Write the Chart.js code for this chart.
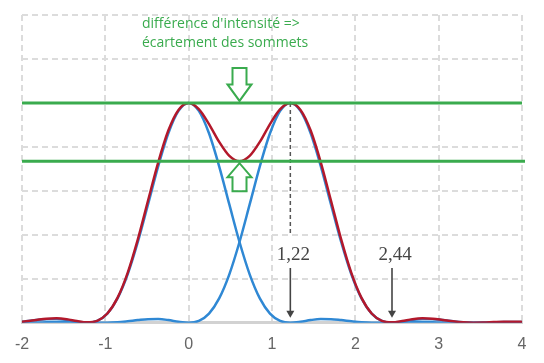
<!DOCTYPE html>
<html>
<head>
<meta charset="utf-8">
<script src="https://cdn.jsdelivr.net/npm/chart.js@4"></script>
<style>
  html, body { margin: 0; padding: 0; background: #fff; }
  #wrap { width: 544px; height: 363px; }
</style>
</head>
<body>
<div id="wrap"><canvas id="chart"></canvas></div>
<script>
// positions along the axis (units of lambda/D)
const xValues = [
  -2.074, -1.952, -1.83, -1.708, -1.586, -1.464, -1.342, -1.22, -1.098, -0.976,
  -0.854, -0.732, -0.61, -0.488, -0.366, -0.244, -0.122, 0, 0.122, 0.244,
  0.366, 0.488, 0.61, 0.732, 0.854, 0.976, 1.098, 1.22, 1.342, 1.464,
  1.586, 1.708, 1.83, 1.952, 2.074, 2.196, 2.318, 2.44, 2.562, 2.684,
  2.806, 2.928, 3.05, 3.172, 3.294, 3.416, 3.538, 3.66, 3.782, 3.904, 4.026
];

// first source, centred on 0
const blueLeft = [
  0.0021, 0.0067, 0.0122, 0.0166, 0.0170, 0.0125, 0.0046, 0, 0.0085, 0.0421,
  0.1111, 0.2206, 0.3675, 0.5384, 0.7118, 0.8619, 0.9638, 1, 0.9638, 0.8619,
  0.7118, 0.5384, 0.3675, 0.2206, 0.1111, 0.0421, 0.0085, 0, 0.0046, 0.0125,
  0.0170, 0.0166, 0.0122, 0.0067, 0.0021, 0.0001, 0.0004, 0.0020, 0.0035, 0.0041,
  0.0035, 0.0023, 0.0009, 0.0001, 0.0001, 0.0005, 0.0009, 0.0012, 0.0013, 0.0009, 0.0004
];

// second source, centred on 1,22
const blueRight = [
  0.0001, 0.0001, 0.0009, 0.0023, 0.0035, 0.0041, 0.0035, 0.0020, 0.0004, 0.0001,
  0.0021, 0.0067, 0.0122, 0.0166, 0.0170, 0.0125, 0.0046, 0, 0.0085, 0.0421,
  0.1111, 0.2206, 0.3675, 0.5384, 0.7118, 0.8619, 0.9638, 1, 0.9638, 0.8619,
  0.7118, 0.5384, 0.3675, 0.2206, 0.1111, 0.0421, 0.0085, 0, 0.0046, 0.0125,
  0.0170, 0.0166, 0.0122, 0.0067, 0.0021, 0.0001, 0.0004, 0.0020, 0.0035, 0.0041, 0.0035
];

// resulting intensity (red)
const redSum = [
  0.0022, 0.0068, 0.0131, 0.0189, 0.0205, 0.0166, 0.0081, 0.0020, 0.0089, 0.0422,
  0.1132, 0.2273, 0.3797, 0.5550, 0.7288, 0.8744, 0.9684, 1, 0.9723, 0.9040,
  0.8229, 0.7590, 0.7350, 0.7590, 0.8229, 0.9040, 0.9723, 1, 0.9684, 0.8744,
  0.7288, 0.5550, 0.3797, 0.2273, 0.1132, 0.0422, 0.0089, 0.0020, 0.0081, 0.0166,
  0.0205, 0.0189, 0.0131, 0.0068, 0.0022, 0.0006, 0.0013, 0.0032, 0.0048, 0.0050, 0.0039
];

const xTicks = [-2, -1, 0, 1, 2, 3, 4];
const markers = [1.22, 2.44];
const markerLabels = ['1,22', '2,44'];
const noteLines = ["différence d'intensité =>", 'écartement des sommets'];

const GREEN = '#3aab4e';
const BLUE = '#2f88d4';
const RED = '#b3182b';

function pts(ys) {
  return xValues.map((x, i) => ({ x, y: ys[i] }));
}

function hollowArrow(ctx, cx, tipY, length, dir) {
  // dir = 1 : pointing down, dir = -1 : pointing up
  const shaft = 7, head = 12, headLen = length * 0.5;
  const baseY = tipY - dir * length;
  const neckY = tipY - dir * headLen;
  ctx.beginPath();
  ctx.moveTo(cx - shaft, baseY);
  ctx.lineTo(cx + shaft, baseY);
  ctx.lineTo(cx + shaft, neckY);
  ctx.lineTo(cx + head, neckY);
  ctx.lineTo(cx, tipY);
  ctx.lineTo(cx - head, neckY);
  ctx.lineTo(cx - shaft, neckY);
  ctx.closePath();
  ctx.stroke();
}

function blackArrow(ctx, x, y0, y1) {
  ctx.beginPath();
  ctx.moveTo(x, y0);
  ctx.lineTo(x, y1 - 6);
  ctx.stroke();
  ctx.beginPath();
  ctx.moveTo(x - 4, y1 - 7);
  ctx.lineTo(x + 4, y1 - 7);
  ctx.lineTo(x, y1);
  ctx.closePath();
  ctx.fill();
}

const annotations = {
  id: 'annotations',
  afterDatasetsDraw(chart) {
    const { ctx, chartArea: a, scales: { x, y } } = chart;
    const peak = Math.max(...redSum);
    const mid = markers[0] / 2;
    const dip = Math.min(...redSum.filter((v, i) => xValues[i] > 0 && xValues[i] < markers[0]));
    const yPeak = y.getPixelForValue(peak);
    const yDip = y.getPixelForValue(dip);
    const xMid = x.getPixelForValue(mid);

    ctx.save();
    // dashed drop line from second summit
    const xm = x.getPixelForValue(markers[0]);
    ctx.strokeStyle = '#555';
    ctx.lineWidth = 1.5;
    ctx.setLineDash([4, 3]);
    ctx.beginPath();
    ctx.moveTo(xm, yPeak);
    ctx.lineTo(xm, 236);
    ctx.stroke();
    ctx.setLineDash([]);

    // green level lines
    ctx.strokeStyle = GREEN;
    ctx.lineWidth = 3;
    ctx.beginPath();
    ctx.moveTo(a.left, yPeak);
    ctx.lineTo(a.right, yPeak);
    ctx.moveTo(a.left, yDip);
    ctx.lineTo(a.right + 3, yDip);
    ctx.stroke();

    // hollow arrows
    ctx.lineWidth = 2;
    hollowArrow(ctx, xMid, yPeak - 2, 33, 1);
    hollowArrow(ctx, xMid, yDip + 2, 28, -1);

    // marker labels and arrows
    ctx.fillStyle = '#444';
    ctx.strokeStyle = '#444';
    ctx.lineWidth = 1.6;
    ctx.font = '19px "Liberation Serif"';
    ctx.textAlign = 'center';
    ctx.textBaseline = 'middle';
    markers.forEach((m, i) => {
      const px = x.getPixelForValue(m);
      ctx.fillText(markerLabels[i], px + 3, 255);
      blackArrow(ctx, px, 268, y.getPixelForValue(0) - 5);
    });

    // note
    ctx.fillStyle = GREEN;
    ctx.font = '14px "Open Sans"';
    ctx.textAlign = 'left';
    ctx.fillText(noteLines[0], 142, 24);
    ctx.fillText(noteLines[1], 142, 43);
    ctx.restore();
  }
};

const gridStyle = {
  color: '#dcdcdc',
  lineWidth: 2,
  drawTicks: false
};

new Chart(document.getElementById('chart'), {
  type: 'line',
  data: {
    datasets: [
      { data: pts(redSum), borderColor: RED, borderWidth: 2.5, pointRadius: 0, cubicInterpolationMode: 'monotone', clip: 0 },
      { data: pts(blueLeft), borderColor: BLUE, borderWidth: 2.5, pointRadius: 0, cubicInterpolationMode: 'monotone', clip: 0 },
      { data: pts(blueRight), borderColor: BLUE, borderWidth: 2.5, pointRadius: 0, cubicInterpolationMode: 'monotone', clip: 0 }
    ]
  },
  options: {
    responsive: true,
    maintainAspectRatio: false,
    animation: false,
    layout: { padding: { left: 22, right: 22, top: 15, bottom: -3 } },
    plugins: { legend: { display: false }, tooltip: { enabled: false } },
    scales: {
      x: {
        type: 'linear',
        min: -2,
        max: 4,
        afterBuildTicks: axis => { axis.ticks = xTicks.map(v => ({ value: v })); },
        ticks: { color: '#666', font: { family: '"Liberation Sans"', size: 16 }, padding: 12 },
        grid: gridStyle,
        border: { display: true, color: '#d2d2d2', width: 3, dash: [6, 4] }
      },
      y: {
        min: 0,
        max: 1.4,
        ticks: { display: false, stepSize: 0.2 },
        grid: gridStyle,
        border: { display: false, dash: [6, 4] }
      }
    }
  },
  plugins: [annotations]
});
</script>
</body>
</html>
